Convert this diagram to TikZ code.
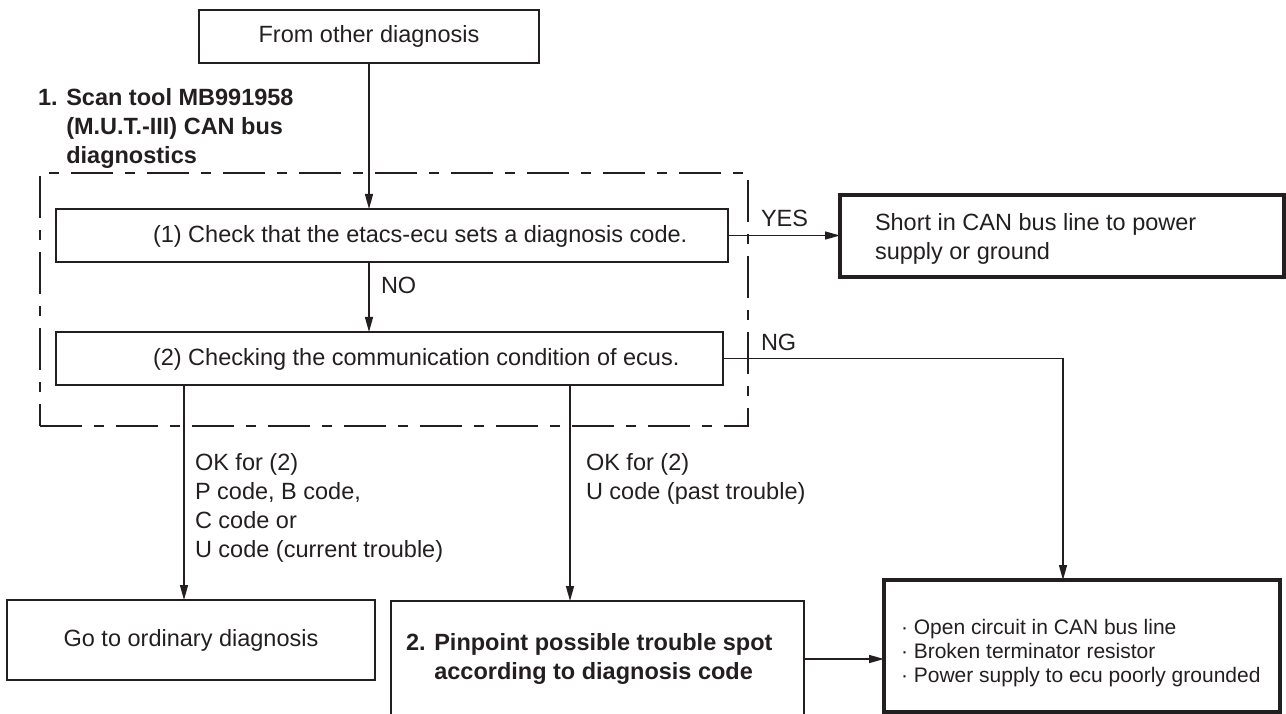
\documentclass[tikz,border=0pt]{standalone}
\usepackage{fontspec}
\setmainfont{Liberation Sans}
\usetikzlibrary{arrows.meta}
\definecolor{ink}{RGB}{35,31,32}
\begin{document}
\begin{tikzpicture}[x=1pt,y=-1pt,
  every node/.style={inner sep=0pt, outer sep=0pt, text=ink},
  box/.style={draw=ink, line width=1.2pt},
  thickbox/.style={draw=ink, line width=3.2pt},
  txt/.style={font=\fontsize{23.5}{29}\selectfont},
  btxt/.style={font=\fontsize{23.5}{29}\selectfont\bfseries},
  stxt/.style={font=\fontsize{21}{24}\selectfont},
  arr/.style={draw=ink, line width=1.4pt, -{Triangle[length=15pt,width=8pt]}},
  groupbox/.style={draw=ink, line width=2.6pt, dash pattern=on 42pt off 12pt on 10pt off 12pt}
]
\useasboundingbox (0,0) rectangle (1286,714);
\clip (0,0) rectangle (1286,714);

% group (dash-dot) box
\node[groupbox, minimum width=708pt, minimum height=253pt] (group) at (394,299.5) {};

% nodes
\node[box, txt, minimum width=340pt, minimum height=53pt] (from) at (369,36.5) {From other diagnosis};

\node[btxt, anchor=north west, align=left] (scan) at (38,88)
  {1. Scan tool MB991958\\\phantom{1. }(M.U.T.-III) CAN bus\\\phantom{1. }diagnostics};

\node[box, fill=white, minimum width=672pt, minimum height=53pt] (c1) at (392,235.5) {};
\node[txt, anchor=west] (c1t) at (153,236) {(1) Check that the etacs-ecu sets a diagnosis code.};

\node[box, fill=white, minimum width=667pt, minimum height=53pt] (c2) at (389.5,358.5) {};
\node[txt, anchor=west] (c2t) at (153,359) {(2) Checking the communication condition of ecus.};

\node[thickbox, minimum width=444pt, minimum height=82pt] (short) at (1062,236) {};
\node[txt, anchor=north west, align=left] (shortt) at (875,213)
  {Short in CAN bus line to power\\supply or ground};

\node[box, txt, minimum width=368pt, minimum height=80pt] (go) at (191,640) {Go to ordinary diagnosis};

\node[box, minimum width=413pt, minimum height=160pt] (pin) at (597.5,681) {};
\node[btxt, anchor=north west, align=left] (pint) at (406,633)
  {2. Pinpoint possible trouble spot\\\phantom{2. }according to diagnosis code};

\node[thickbox, minimum width=396pt, minimum height=132pt] (res) at (1082,646) {};
\node[stxt, anchor=north west, align=left] (rest) at (901,619)
  {\textperiodcentered\ Open circuit in CAN bus line\\\textperiodcentered\ Broken terminator resistor\\\textperiodcentered\ Power supply to ecu poorly grounded};

% labels
\node[txt, anchor=west] (yes) at (761,218) {YES};
\node[txt, anchor=west] (ng) at (761,342) {NG};
\node[txt, anchor=west] (no) at (381,285) {NO};
\node[txt, anchor=north west, align=left] (ok1) at (195,453)
  {OK for (2)\\P code, B code,\\C code or\\U code (current trouble)};
\node[txt, anchor=north west, align=left] (ok2) at (586,453)
  {OK for (2)\\U code (past trouble)};

% helper coordinates
\coordinate (d1) at (184,0);
\coordinate (d2) at (570,0);
\coordinate (d3) at (0,659);
\coordinate (ngc) at (1063,358.5);

% connectors
\draw[arr] (from.south) -- (from.south |- c1.north);
\draw[arr] (c1.south -| from.south) -- (c2.north -| from.south);
\draw[arr] (c1.east) -- (c1.east -| short.west);
\draw[arr] (c2.east) -- (ngc) -- (ngc |- res.north);
\draw[arr] (c2.south -| d1) -- (go.north -| d1);
\draw[arr] (c2.south -| d2) -- (pin.north -| d2);
\draw[arr] (pin.east |- d3) -- (res.west |- d3);
\end{tikzpicture}
\end{document}
